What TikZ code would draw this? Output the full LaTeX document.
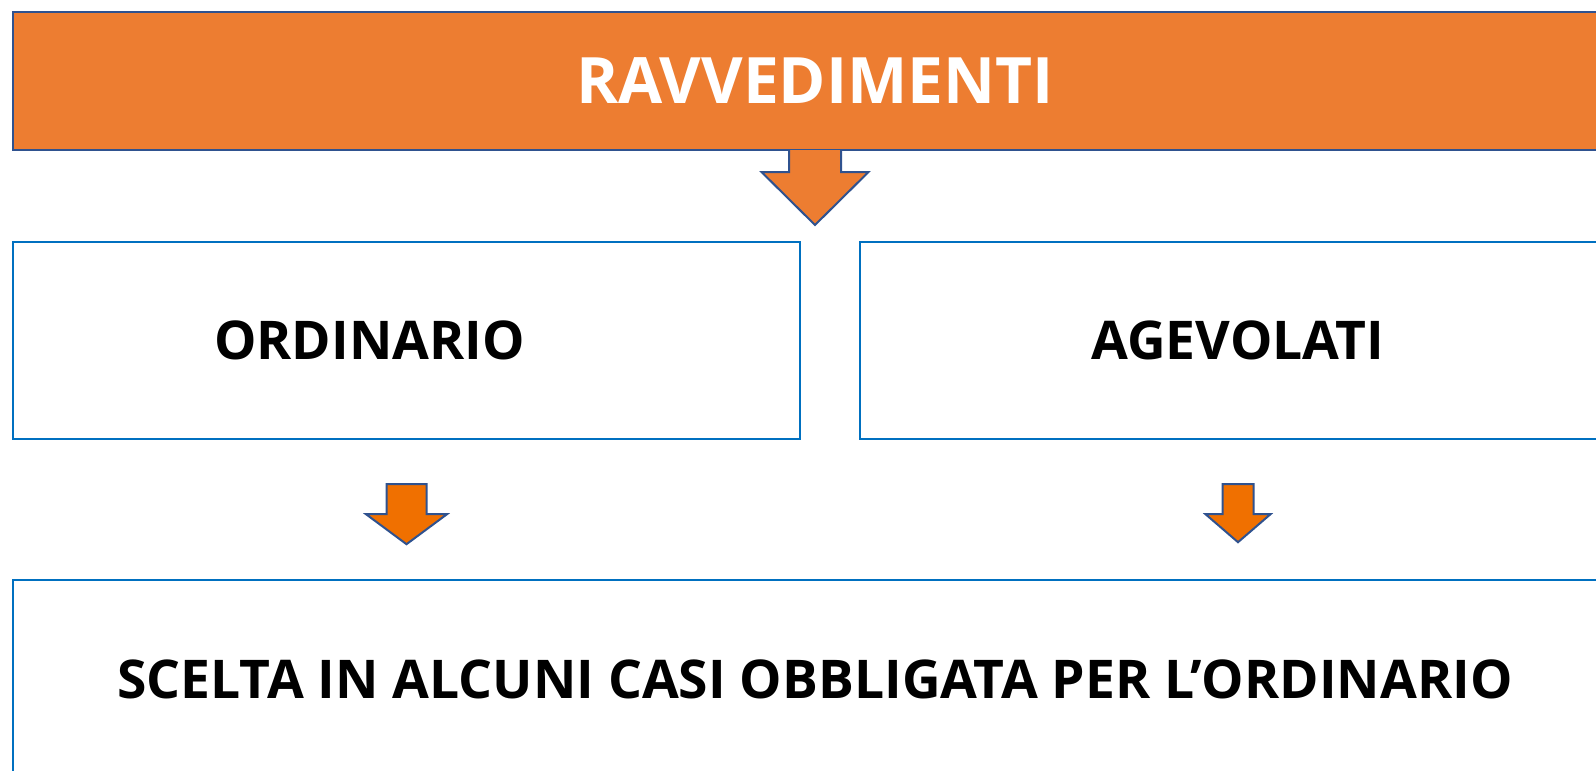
\documentclass[tikz,border=0pt]{standalone}
\usepackage{fontspec}
\setmainfont{Open Sans}
\usetikzlibrary{positioning}

\definecolor{bannerorange}{HTML}{ED7D31}
\definecolor{arroworange}{HTML}{F07000}
\definecolor{edgeblue}{HTML}{2F528F}
\definecolor{boxblue}{HTML}{0070C0}

\tikzset{
  banner/.style={draw=edgeblue, line width=1pt, fill=bannerorange, text=white,
    font=\bfseries\fontsize{32}{38}\selectfont, inner sep=0pt},
  box/.style={draw=boxblue, line width=1.2pt, fill=white, text=black,
    font=\bfseries\fontsize{26.7}{32}\selectfont, inner sep=0pt},
  blockarrow/.style={draw=edgeblue, line width=1pt, fill=arroworange, line join=miter},
}

\begin{document}
\begin{tikzpicture}[x=0.5pt, y=-0.5pt]
			\useasboundingbox (0,0) rectangle (1596,771);
			\clip (0,0) rectangle (1596,771);

			\node[banner, minimum width=802pt, minimum height=69pt] (ravv) at (815,81) {RAVVEDIMENTI};
			\node[box, minimum width=393.5pt, minimum height=98.5pt] (ordinario) at (406.5,340.5) {ORDINARIO\hspace*{37pt}\null};
			\node[box, minimum width=378pt, minimum height=98.5pt] (agevolati) at (1238,340.5) {AGEVOLATI};
			\node[box, minimum width=802pt, minimum height=99pt] (scelta) at (815,679) {SCELTA IN ALCUNI CASI OBBLIGATA PER L’ORDINARIO};

			% arrow out of the banner
			\begin{scope}[shift={(ravv.south)}]
				\filldraw[blockarrow, fill=bannerorange] (-26,-1) -- (-26,21) -- (-53.5,21) -- (0,74) -- (53.5,21) -- (26,21) -- (26,-1);
			\end{scope}

			% arrows under the two boxes
			\begin{scope}[shift={(ordinario.south)}]
				\filldraw[blockarrow] (-20,44) -- (20,44) -- (20,74) -- (40.5,74) -- (0,104) -- (-40.5,74) -- (-20,74) -- cycle;
			\end{scope}
			\begin{scope}[shift={(agevolati.south)}]
				\filldraw[blockarrow] (-15.5,44) -- (15.5,44) -- (15.5,74) -- (32.5,74) -- (0,102) -- (-32.5,74) -- (-15.5,74) -- cycle;
			\end{scope}

		\end{tikzpicture}
\end{document}
